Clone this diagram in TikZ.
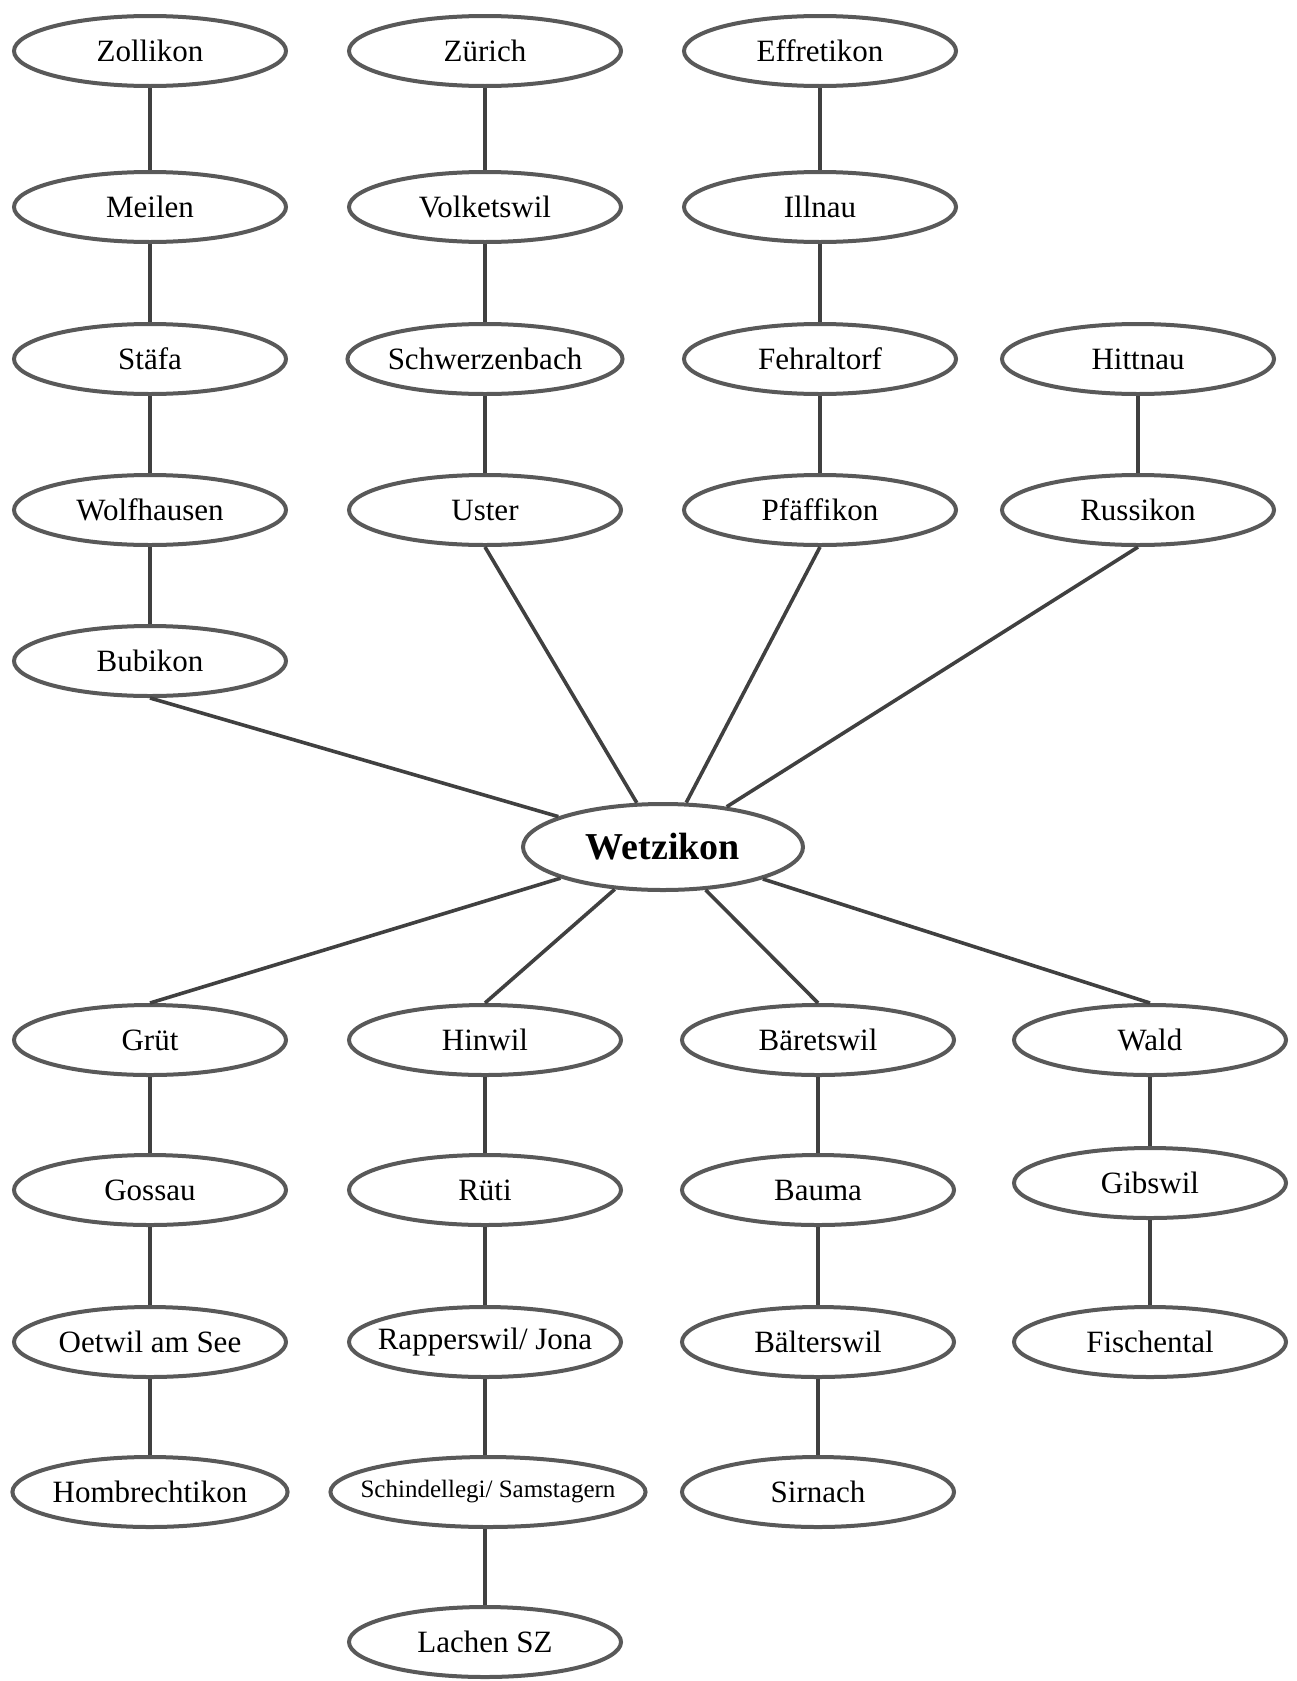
\documentclass[tikz,border=0pt]{standalone}
\usepackage{fontspec}
\setmainfont{Liberation Serif}
\usetikzlibrary{shapes.geometric}
\tikzset{
  town/.style={ellipse, draw=black!65, line width=2pt, fill=white, minimum width=136pt, minimum height=35pt, inner sep=0pt, font=\fontsize{15.5}{17}\selectfont},
  tighttown/.style={town, inner xsep=-8pt},
  hub/.style={town, minimum width=140pt, minimum height=43pt, font=\fontsize{19}{21}\selectfont\bfseries},
  link/.style={draw=black!75, line width=1.8pt}
}
\begin{document}
\begin{tikzpicture}[x=0.5pt,y=-0.5pt]
\useasboundingbox (0,0) rectangle (1296,1681);
% upper part
\node[town] (zollikon) at (150,51) {Zollikon};
\node[town] (meilen) at (150,207) {Meilen};
\node[town] (staefa) at (150,359) {Stäfa};
\node[town] (wolfhausen) at (150,510) {Wolfhausen};
\node[town] (bubikon) at (150,661) {Bubikon};
\node[town] (zuerich) at (485,51) {Zürich};
\node[town] (volketswil) at (485,207) {Volketswil};
\node[town] (schwerzenbach) at (485,359) {Schwerzenbach};
\node[town] (uster) at (485,510) {Uster};
\node[town] (effretikon) at (820,51) {Effretikon};
\node[town] (illnau) at (820,207) {Illnau};
\node[town] (fehraltorf) at (820,359) {Fehraltorf};
\node[town] (pfaeffikon) at (820,510) {Pfäffikon};
\node[town] (hittnau) at (1138,359) {Hittnau};
\node[town] (russikon) at (1138,510) {Russikon};
% hub
\node[hub] (wetzikon) at (663,847) {Wetzikon};
% lower part
\node[town] (gruet) at (150,1040) {Grüt};
\node[town] (gossau) at (150,1190) {Gossau};
\node[town] (oetwil) at (150,1342) {Oetwil am See};
\node[town] (hombrechtikon) at (150,1492) {Hombrechtikon};
\node[town] (hinwil) at (485,1040) {Hinwil};
\node[town] (rueti) at (485,1190) {Rüti};
\node[tighttown] (rapperswil) at (485,1342) {Rapperswil/ Jona};
\node[tighttown, minimum width=142pt] (schindellegi) at (488,1492) {\fontsize{12.5}{14}\selectfont Schindellegi/ Samstagern};
\node[town] (lachen) at (485,1642) {Lachen SZ};
\node[town] (baeretswil) at (818,1040) {Bäretswil};
\node[town] (bauma) at (818,1190) {Bauma};
\node[town] (balterswil) at (818,1342) {Bälterswil};
\node[town] (sirnach) at (818,1492) {Sirnach};
\node[town] (wald) at (1150,1040) {Wald};
\node[town] (gibswil) at (1150,1183) {Gibswil};
\node[town] (fischental) at (1150,1342) {Fischental};
% chains
\draw[link] (zollikon) -- (meilen);
\draw[link] (meilen) -- (staefa);
\draw[link] (staefa) -- (wolfhausen);
\draw[link] (wolfhausen) -- (bubikon);
\draw[link] (zuerich) -- (volketswil);
\draw[link] (volketswil) -- (schwerzenbach);
\draw[link] (schwerzenbach) -- (uster);
\draw[link] (effretikon) -- (illnau);
\draw[link] (illnau) -- (fehraltorf);
\draw[link] (fehraltorf) -- (pfaeffikon);
\draw[link] (hittnau) -- (russikon);
\draw[link] (gruet) -- (gossau);
\draw[link] (gossau) -- (oetwil);
\draw[link] (oetwil) -- (hombrechtikon);
\draw[link] (hinwil) -- (rueti);
\draw[link] (rueti) -- (rapperswil);
\draw[link] (rapperswil) -- (schindellegi.north -| rapperswil);
\draw[link] (schindellegi.south -| lachen) -- (lachen);
\draw[link] (baeretswil) -- (bauma);
\draw[link] (bauma) -- (balterswil);
\draw[link] (balterswil) -- (sirnach);
\draw[link] (wald) -- (gibswil);
\draw[link] (gibswil) -- (fischental);
% hub connectors
\draw[link] (wetzikon) -- (bubikon.south);
\draw[link] (wetzikon) -- (uster.south);
\draw[link] (wetzikon) -- (pfaeffikon.south);
\draw[link] (wetzikon) -- (russikon.south);
\draw[link] (wetzikon) -- (gruet.north);
\draw[link] (wetzikon) -- (hinwil.north);
\draw[link] (wetzikon) -- (baeretswil.north);
\draw[link] (wetzikon) -- (wald.north);
\end{tikzpicture}
\end{document}
